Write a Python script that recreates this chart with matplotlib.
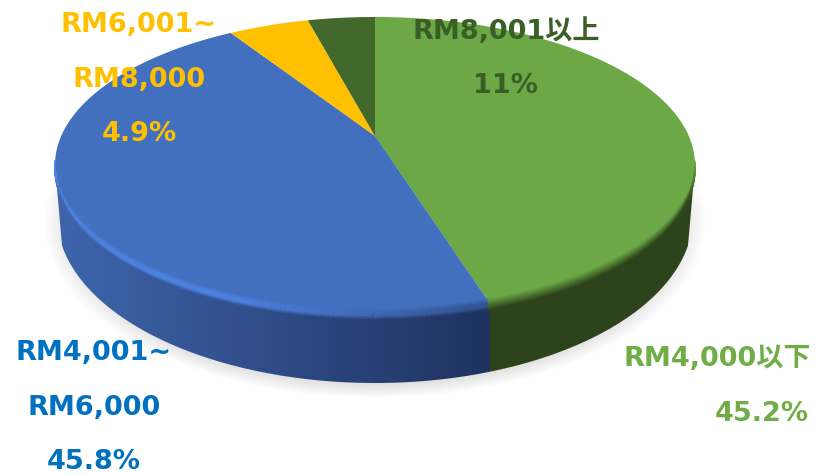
import matplotlib
matplotlib.use("Agg")
import matplotlib.pyplot as plt
from matplotlib.patches import Polygon
from matplotlib.collections import LineCollection
import numpy as np

plt.rcParams['font.family'] = ['DejaVu Sans', 'Noto Sans CJK JP']

# slices clockwise from 12 o'clock, sizes as drawn in the picture
categories = ['RM4,000以下', 'RM4,001~RM6,000', 'RM6,001~RM8,000', 'RM8,001以上']
values = [45.2, 45.8, 4.9, 4.1]
top_colors = ['#6CA946', '#4270BF', '#FFC000', '#43682B']

label_lines = [['RM4,000以下', '45.2%'], ['RM4,001~', 'RM6,000', '45.8%'],
               ['RM6,001~', 'RM8,000', '4.9%'], ['RM8,001以上', '11%']]
label_colors = ['#70AD47', '#0070C0', '#FFC000', '#3A5F26']
label_x = [[717, 762], [94, 94, 94], [139, 139, 139], [506, 506]]
label_y = [[366, 421], [360, 415, 469], [32, 87, 141], [39, 93]]

# top face ellipse and bottom rim ellipse, in pixels
CX, CY, A, B = 375, 165, 320, 148
BOT_CY, BOT_A, BOT_B = 216, 318, 167
APEX = 29  # apex sits this far above the ellipse centre (perspective)
K = APEX / B

BLUE_FACE = np.array([66, 112, 191]) / 255
BLUE_HI = np.array([78, 130, 225]) / 255
BLUE_WALL_L = np.array([62, 101, 172]) / 255
BLUE_WALL_R = np.array([31, 50, 96]) / 255
GREEN_FACE = np.array([108, 169, 70]) / 255
GREEN_WALL = np.array([45, 67, 27]) / 255


def project(frac):
    # fraction of the pie clockwise from top -> pixel position on the rim
    t = 2 * np.pi * np.asarray(frac)
    u, v = np.sin(t), np.cos(t)
    w = 1 + K * v
    x = CX + A * np.sqrt(1 - K ** 2) * u / w
    y = CY - (APEX + B * v) / w
    return x, y


def bottom_y(x):
    return BOT_CY + BOT_B * np.sqrt(np.clip(1 - ((x - CX) / BOT_A) ** 2, 0, 1))


def blue_wall(x):
    f = np.clip((x - 60) / (split_x - 60), 0, 1)[:, None]
    return BLUE_WALL_L * (1 - f) + BLUE_WALL_R * f


fig = plt.figure(figsize=(8.32, 4.74), dpi=100)
ax = fig.add_axes([0, 0, 1, 1])
ax.set_xlim(0, 832)
ax.set_ylim(474, 0)
ax.axis('off')

# soft shadow under the pie
xx, yy = np.meshgrid(np.arange(832) + 0.5, np.arange(474) + 0.5)
d = np.sqrt(((xx - CX) / 331) ** 2 + ((yy - 222) / 176) ** 2)
shadow = np.zeros((474, 832, 4))
shadow[..., :3] = 0.55
shadow[..., 3] = 0.3 * np.clip((1.0 - d) / 0.09, 0, 1)
ax.imshow(shadow, extent=(0, 832, 474, 0), aspect='auto', zorder=1)

# where the slices meet on the rim
edges = np.cumsum([0] + values) / sum(values)
split_x, split_y = project(edges[1])

# side wall, shaded left to right
wall_x = np.arange(832) + 0.5
row = blue_wall(wall_x)
row[wall_x > split_x] = GREEN_WALL
wall = np.tile(row, (474, 1, 1))
img = ax.imshow(wall, extent=(0, 832, 474, 0), aspect='auto', zorder=2)

rx, ry = project(np.linspace(0, 1, 721))
front = ry >= CY
order = np.argsort(rx[front])
fx, fy = rx[front][order], ry[front][order]
bx = np.linspace(CX - 313, CX + 313, 400)
clip = Polygon(np.r_[np.c_[fx, fy], np.c_[bx[::-1], bottom_y(bx[::-1])]],
               closed=True, transform=ax.transData)
img.set_clip_path(clip)

# top face slices
for i in range(len(values)):
    x, y = project(np.linspace(edges[i], edges[i + 1], 200))
    ax.add_patch(Polygon(np.r_[[(CX, CY - APEX)], np.c_[x, y]], closed=True,
                         facecolor=top_colors[i], edgecolor='none', zorder=3))

# bevel band along the front rim, drawn as thin offset curves
x0, y0 = project(np.linspace(edges[0], 1.0, 500))
keep = y0 >= CY - 5
x0, y0 = x0[keep], y0[keep]
nx, ny = (x0 - CX) / A ** 2, (y0 - CY) / B ** 2
norm = np.hypot(nx, ny)
nx, ny = nx / norm, ny / norm
taper = np.clip((y0 - (CY - 5)) / 40, 0, 1)
for s in np.arange(-5, 8, 0.75):
    x = x0 + s * 0.15 * nx * taper
    y = y0 + s * ny * taper
    pts = np.c_[x, y].reshape(-1, 1, 2)
    segs = np.concatenate([pts[:-1], pts[1:]], axis=1)
    mid = x[:-1]
    t_mid = taper[:-1][:, None]
    # colour follows the real offset so the band thins out at the sides
    s_eff = s * t_mid
    g = np.clip((mid - 230) / (split_x - 230), 0, 1)[:, None]
    hi = BLUE_HI * (1 - g) + (BLUE_FACE * 0.75) * g
    c_in = BLUE_FACE + (hi - BLUE_FACE) * np.clip((s_eff + 5) / 5, 0, 1)
    c_out = hi + (blue_wall(mid) - hi) * np.clip((s_eff - 3) / 4, 0, 1)
    c = np.where(s_eff < 0, c_in, c_out)
    f = np.clip((s + 5) / 12, 0, 1) * t_mid
    c_green = GREEN_FACE * (1 - f) + GREEN_WALL * f
    colors = np.where((mid > split_x)[:, None], c_green, c)
    rgba = np.c_[colors, np.clip(t_mid * 4, 0, 1)]
    ax.add_collection(LineCollection(segs, colors=rgba, linewidths=1.0,
                                     capstyle='butt', zorder=4))

# labels, one text per line
for i in range(len(categories)):
    for line, lx, ly in zip(label_lines[i], label_x[i], label_y[i]):
        ax.text(lx, ly, line, color=label_colors[i], ha='center',
                va='baseline', fontsize=19.5, fontweight='bold', zorder=5)

fig.savefig('out.png', dpi=100)
